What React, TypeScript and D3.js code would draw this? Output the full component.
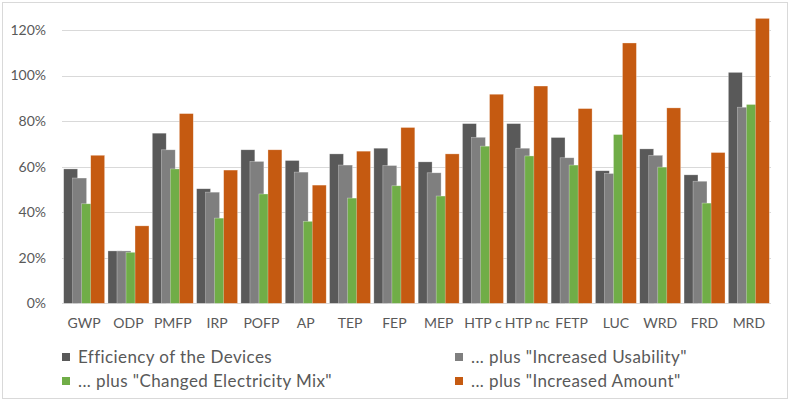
import React from "react";
import * as d3 from "d3";

const categories = ["GWP", "ODP", "PMFP", "IRP", "POFP", "AP", "TEP", "FEP", "MEP", "HTP c", "HTP nc", "FETP", "LUC", "WRD", "FRD", "MRD"];
const seriesNames = [
  "Efficiency of the Devices",
  '... plus "Increased Usability"',
  '... plus "Changed Electricity Mix"',
  '... plus "Increased Amount"',
];
const efficiency = [0.59, 0.23, 0.747, 0.503, 0.674, 0.627, 0.656, 0.681, 0.621, 0.789, 0.789, 0.728, 0.582, 0.678, 0.564, 1.014];
const usability = [0.55, 0.23, 0.674, 0.488, 0.623, 0.576, 0.607, 0.605, 0.573, 0.729, 0.681, 0.639, 0.57, 0.65, 0.536, 0.861];
const electricity = [0.437, 0.224, 0.59, 0.374, 0.48, 0.36, 0.462, 0.516, 0.471, 0.69, 0.647, 0.607, 0.741, 0.598, 0.44, 0.873];
const amount = [0.65, 0.34, 0.833, 0.585, 0.674, 0.519, 0.668, 0.772, 0.656, 0.918, 0.954, 0.855, 1.143, 0.858, 0.662, 1.251];
const yTicks = [0, 0.2, 0.4, 0.6, 0.8, 1.0, 1.2];
const colors = ["#595959", "#7f7f7f", "#70ad47", "#c55a11"];

const W = 790;
const H = 401;
const FONT = "Lato, 'Open Sans', sans-serif";

export default function App() {
  const series = [efficiency, usability, electricity, amount];
  const x = d3.scaleBand<string>().domain(categories).range([62, 771]).paddingInner(0.075).paddingOuter(0.0375);
  const y = d3.scaleLinear().domain([0, 1.2]).range([303.3, 30]);
  const bw = x.bandwidth();
  const barW = bw * 0.34;
  const off = (bw - barW) / 3;
  const fmt = d3.format(".0%");

  const legendPos = [
    { x: 62, y: 357 },
    { x: 455, y: 357 },
    { x: 62, y: 381 },
    { x: 455, y: 381 },
  ];

  return (
    <svg width={W} height={H} style={{ position: "absolute", left: 0, top: 0, display: "block" }}>
      <rect x={0} y={0} width={W} height={H} fill="#fff" />
      <rect x={2.5} y={2.5} width={W - 5} height={H - 5} fill="none" stroke="#d9d9d9" strokeWidth={1} />
      {yTicks.map((t) => (
        <g key={t}>
          <line x1={62} x2={771} y1={Math.round(y(t)) + 0.5} y2={Math.round(y(t)) + 0.5} stroke="#d9d9d9" strokeWidth={1} />
          <text x={46} y={y(t)} dy="0.35em" textAnchor="end" fontFamily={FONT} fontSize={14} fill="#595959">
            {fmt(t)}
          </text>
        </g>
      ))}
      {categories.map((c, i) => (
        <g key={c}>
          {series.map((s, j) => (
            <rect
              key={j}
              x={(x(c) as number) + j * off}
              y={y(s[i])}
              width={barW}
              height={y(0) - y(s[i])}
              fill={colors[j]}
              stroke="#ffffff"
              strokeOpacity={0.5}
              strokeWidth={0.6}
            />
          ))}
          <text
            x={(x(c) as number) + bw / 2}
            y={328}
            textAnchor="middle"
            fontFamily={FONT}
            fontSize={14}
            fill="#595959"
          >
            {c}
          </text>
        </g>
      ))}
      {seriesNames.map((n, j) => (
        <g key={n} transform={`translate(${legendPos[j].x},${legendPos[j].y})`}>
          <rect x={0} y={-4} width={8} height={8} fill={colors[j]} />
          <text x={16} y={0} dy="0.35em" fontFamily={FONT} fontSize={17} letterSpacing={0.4} fill="#595959">
            {n}
          </text>
        </g>
      ))}
    </svg>
  );
}
